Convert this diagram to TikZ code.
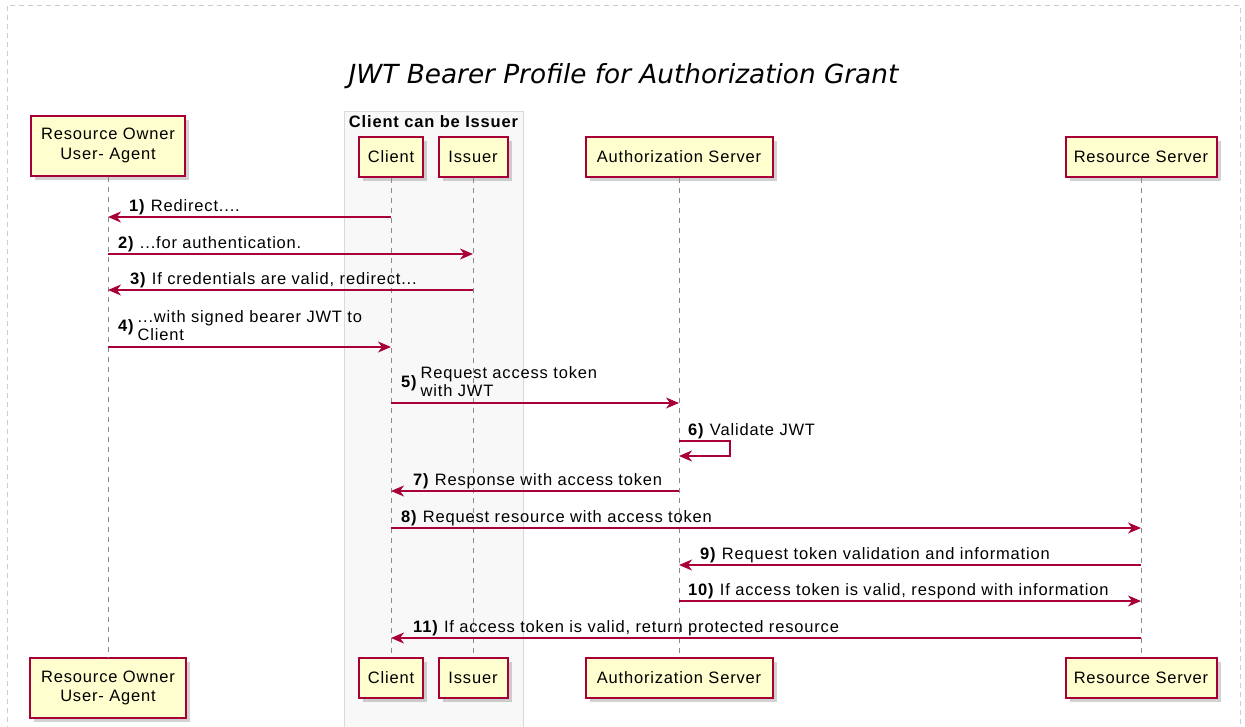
\documentclass[tikz,border=0pt]{standalone}
\usepackage{fontspec}
\setmainfont{Liberation Sans}[LetterSpace=5]
\newfontfamily\titlefont{DejaVu Sans}
\usetikzlibrary{arrows.meta,shadows}
\definecolor{pu}{HTML}{A80036}
\definecolor{pufill}{HTML}{FEFECE}
\definecolor{grpfill}{HTML}{F8F8F8}
\definecolor{grpline}{HTML}{DADADA}
\definecolor{frameline}{HTML}{CCCCCC}
\definecolor{lifeline}{HTML}{8A8A8A}

\begin{document}
\begin{tikzpicture}[x=1pt,y=-1pt,
  part/.style={draw=pu, fill=pufill, line width=2pt, inner sep=0pt, align=center,
    font=\fontsize{16.5}{19.5}\selectfont,
    drop shadow={shadow xshift=4pt, shadow yshift=-4pt, opacity=0.25, fill=black!70}},
  life/.style={draw=lifeline, dash pattern=on 5pt off 5pt, line width=0.8pt},
  msg/.style={draw=pu, line width=1.5pt, -{Stealth[length=13pt,width=11pt,inset=4pt]}},
  lbl/.style={font=\fontsize{16.5}{18.5}\selectfont, inner sep=0pt, anchor=base west},
]
\useasboundingbox (0,0) rectangle (1245,726);

% outer frame
\draw[frameline, line width=1pt, dash pattern=on 5pt off 4pt] (7,740) -- (7,5) -- (1240,5) -- (1240,740);

% title
\node[font=\titlefont\itshape\fontsize{26.3}{30}\selectfont, anchor=base, inner sep=0pt] (title) at (623.5,83) {JWT Bearer Profile for Authorization Grant};

% group box
\draw[grpline, fill=grpfill, line width=0.8pt] (344,111.5) rectangle (523,740);
\node[font=\bfseries\fontsize{16.5}{19}\selectfont, anchor=base, inner sep=0pt] (grp) at (433.5,127.5) {Client can be Issuer};

% rows
\foreach \n/\y in {1/217,2/254,3/290,4/347,5/403,6/441,7/491,8/528,9/565,10/601,11/638}
  \coordinate (r\n) at (0,\y);

% participants (top)
\node[part, minimum width=154pt, minimum height=60pt] (roT) at (108,145.5) {Resource Owner\\User- Agent};
\node[part, minimum width=64pt, minimum height=40pt] (clT) at (391,156.5) {Client};
\node[part, minimum width=69pt, minimum height=40pt] (isT) at (473,156.5) {Issuer};
\node[part, minimum width=187pt, minimum height=40pt] (asT) at (679,156.5) {Authorization Server};
\node[part, minimum width=151pt, minimum height=40pt] (rsT) at (1141,156.5) {Resource Server};

% participants (bottom)
\node[part, minimum width=156pt, minimum height=60pt] (roB) at (108,688) {Resource Owner\\User- Agent};
\node[part, minimum width=64pt, minimum height=40pt] (clB) at (391,678) {Client};
\node[part, minimum width=69pt, minimum height=40pt] (isB) at (473,678) {Issuer};
\node[part, minimum width=187pt, minimum height=40pt] (asB) at (679,678) {Authorization Server};
\node[part, minimum width=151pt, minimum height=40pt] (rsB) at (1141,678) {Resource Server};

% lifelines
\foreach \p in {ro,cl,is,as,rs}
  \draw[life] (\p T.south) -- (\p B.north);

% messages
\draw[msg] (clT |- r1) -- (roT |- r1);
\node[lbl] (l1) at (129,211.5) {\textbf{1)} Redirect....};

\draw[msg] (roT |- r2) -- (isT |- r2);
\node[lbl] (l2) at (118,248.5) {\textbf{2)} ...for authentication.};

\draw[msg] (isT |- r3) -- (roT |- r3);
\node[lbl] (l3) at (130,284.5) {\textbf{3)} If credentials are valid, redirect...};

\draw[msg] (roT |- r4) -- (clT |- r4);
\node[lbl] (l4) at (118,340.5) {\textbf{\raisebox{9pt}{4)}}\hspace{4pt}\begin{tabular}[b]{@{}l@{}}...with signed bearer JWT to\\Client\end{tabular}};

\draw[msg] (clT |- r5) -- (asT |- r5);
\node[lbl] (l5) at (401,396.5) {\textbf{\raisebox{9pt}{5)}}\hspace{4pt}\begin{tabular}[b]{@{}l@{}}Request access token\\with JWT\end{tabular}};

\coordinate (s6a) at (730,441);
\coordinate (s6b) at (730,456);
\coordinate (r6b) at (0,456);
\draw[msg] (asT |- r6) -- (s6a) -- (s6b) -- (asT |- r6b);
\node[lbl] (l6) at (688,435) {\textbf{6)} Validate JWT};

\draw[msg] (asT |- r7) -- (clT |- r7);
\node[lbl] (l7) at (413,485.5) {\textbf{7)} Response with access token};

\draw[msg] (clT |- r8) -- (rsT |- r8);
\node[lbl] (l8) at (401,522.5) {\textbf{8)} Request resource with access token};

\draw[msg] (rsT |- r9) -- (asT |- r9);
\node[lbl] (l9) at (700,559.5) {\textbf{9)} Request token validation and information};

\draw[msg] (asT |- r10) -- (rsT |- r10);
\node[lbl] (l10) at (688,595.5) {\textbf{10)} If access token is valid, respond with information};

\draw[msg] (rsT |- r11) -- (clT |- r11);
\node[lbl] (l11) at (413,632.5) {\textbf{11)} If access token is valid, return protected resource};
\end{tikzpicture}
\end{document}
